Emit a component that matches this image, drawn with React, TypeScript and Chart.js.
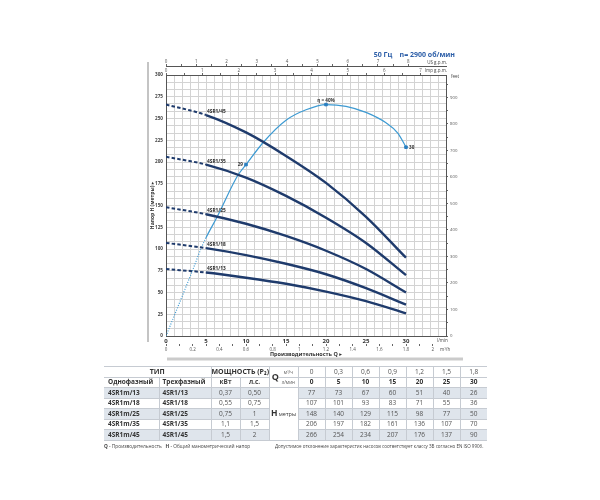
import React, { useEffect, useRef } from 'react';
import { Chart, registerables } from 'chart.js';

Chart.register(...registerables);

const FONT = "'Open Sans', 'DejaVu Sans', sans-serif";

// ---------- data ----------
const flowLmin = [0, 5, 10, 15, 20, 25, 30];
const flowM3h = ['0', '0,3', '0,6', '0,9', '1,2', '1,5', '1,8'];
const modelsSingle = ['4SR1m/13', '4SR1m/18', '4SR1m/25', '4SR1m/35', '4SR1m/45'];
const modelsThree = ['4SR1/13', '4SR1/18', '4SR1/25', '4SR1/35', '4SR1/45'];
const powerKw = ['0,37', '0,55', '0,75', '1,1', '1,5'];
const powerHp = ['0,50', '0,75', '1', '1,5', '2'];
const head13 = [77, 73, 67, 60, 51, 40, 26];
const head18 = [107, 101, 93, 83, 71, 55, 36];
const head25 = [148, 140, 129, 115, 98, 77, 50];
const head35 = [206, 197, 182, 161, 136, 107, 70];
const head45 = [266, 254, 234, 207, 176, 137, 90];
const heads = [head13, head18, head25, head35, head45];

const effQ = [0, 3.3, 4.4, 5, 6.4, 9, 10, 12.2, 15, 17.5, 20, 22.5, 25, 27.5, 29, 30];
const effH = [0, 75, 101, 113, 137, 185, 197, 223, 248, 260, 266, 264, 257, 245, 233, 217];
const effMarkQ = [10, 20, 30];
const effMarkH = [197, 266, 217];
const effMarkLabels = ['29', 'η = 40%', '30'];

const M_TO_FT = 3.28084;
const LMIN_TO_M3H = 0.06;
const LMIN_PER_USGPM = 3.78541;
const LMIN_PER_IMPGPM = 4.54609;
const X_MAX = 35;
const Y_MAX = 300;

const PUMP_COLOR = '#1f3b6c';
const EFF_COLOR = '#3d9ad2';

const near = (v: number, step: number) => Math.abs(v / step - Math.round(v / step)) < 1e-6;
const range = (n: number, step: number) => Array.from({ length: n + 1 }, (_, k) => ({ value: Math.round(k * step * 1000) / 1000 }));

const decorPlugin = {
  id: 'decor',
  beforeDraw(chart: any) {
    const c = chart.ctx;
    c.save();
    c.fillStyle = '#ffffff';
    c.fillRect(0, 0, chart.width, chart.height);
    c.strokeStyle = '#c4c4c4';
    c.lineWidth = 2;
    c.beginPath();
    c.moveTo(148, 62);
    c.lineTo(148, 342);
    c.stroke();
    c.strokeStyle = '#cbcbcb';
    c.lineWidth = 3;
    c.beginPath();
    c.moveTo(167, 359);
    c.lineTo(463, 359);
    c.stroke();
    c.restore();
  },
  afterDatasetsDraw(chart: any) {
    const c = chart.ctx;
    const xs = chart.scales.x;
    const ys = chart.scales.y;
    c.save();
    c.font = `bold 4.8px ${FONT}`;
    c.fillStyle = '#2a2a2a';
    c.textAlign = 'left';
    c.textBaseline = 'bottom';
    heads.forEach((h, i) => {
      const px = xs.getPixelForValue(flowLmin[1]);
      const py = ys.getPixelForValue(h[1]);
      c.fillText(modelsThree[i], px + 1, py - 1);
    });
    c.font = `bold 4.6px ${FONT}`;
    c.fillStyle = '#333';
    c.textBaseline = 'middle';
    effMarkQ.forEach((q, i) => {
      const px = xs.getPixelForValue(q);
      const py = ys.getPixelForValue(effMarkH[i]);
      if (i === 0) {
        c.textAlign = 'right';
        c.fillText(effMarkLabels[i], px - 3, py);
      } else if (i === 1) {
        c.textAlign = 'center';
        c.fillText(effMarkLabels[i], px, py - 4);
      } else {
        c.textAlign = 'left';
        c.fillText(effMarkLabels[i], px + 3, py);
      }
    });
    c.restore();
  },
  afterDraw(chart: any) {
    const c = chart.ctx;
    const area = chart.chartArea;
    c.save();
    c.font = `bold 7px ${FONT}`;
    c.fillStyle = '#2c5ea8';
    c.textAlign = 'right';
    c.textBaseline = 'middle';
    c.fillText('50 Гц    n= 2900 об/мин', 455, 55);
    c.fillStyle = '#444';
    c.font = `4.5px ${FONT}`;
    c.fillText('US g.p.m.', area.right + 1, 62.5);
    c.fillText('Imp g.p.m.', area.right + 1, 70.5);
    c.textAlign = 'left';
    c.fillText('feet', area.right + 5, area.top + 2);
    c.fillText('l/min', area.right - 9, area.bottom + 5);
    c.fillText('m³/h', area.right - 6, area.bottom + 13.5);
    c.font = `bold 5.5px ${FONT}`;
    c.fillStyle = '#333';
    c.textAlign = 'center';
    c.fillText('Производительность Q ▸', (area.left + area.right) / 2, 354.5);
    c.translate(153, (area.top + area.bottom) / 2);
    c.rotate(-Math.PI / 2);
    c.font = `bold 5px ${FONT}`;
    c.fillText('Напор H (метры) ▸', 0, 0);
    c.restore();
  },
};

function ChartCanvas() {
  const ref = useRef<HTMLCanvasElement | null>(null);
  useEffect(() => {
    if (!ref.current) return;
    const pumpSets = heads.map((h, i) => ({
      label: modelsThree[i],
      data: flowLmin.map((q, k) => ({ x: q, y: h[k] })),
      borderColor: PUMP_COLOR,
      borderWidth: 2.4,
      pointRadius: 0,
      cubicInterpolationMode: 'monotone',
      order: 0,
      segment: {
        borderDash: (ctx: any) => (ctx.p1DataIndex <= 1 ? [3.5, 2.2] : undefined),
        borderWidth: (ctx: any) => (ctx.p1DataIndex <= 1 ? 2 : undefined),
      },
    }));
    const effSet = {
      label: 'eff',
      data: effQ.map((q, k) => ({ x: q, y: effH[k] })),
      borderColor: EFF_COLOR,
      borderWidth: 1.2,
      pointRadius: 0,
      cubicInterpolationMode: 'monotone',
      order: 2,
      segment: {
        borderDash: (ctx: any) => (effQ[ctx.p1DataIndex] <= 5 ? [1, 1.5] : undefined),
      },
    };
    const markSet = {
      label: 'marks',
      data: effMarkQ.map((q, k) => ({ x: q, y: effMarkH[k] })),
      showLine: false,
      pointStyle: 'rect',
      pointRadius: 1.8,
      pointBackgroundColor: '#2a7fc0',
      pointBorderColor: '#2a7fc0',
      order: 1,
    };
    const small = { family: FONT, size: 4.5 };
    const chart = new Chart(ref.current, {
      type: 'line',
      data: { datasets: [...pumpSets, effSet, markSet] as any },
      options: {
        animation: false,
        responsive: false,
        maintainAspectRatio: false,
        events: [],
        layout: { autoPadding: false, padding: { left: 140, right: 134, top: 54, bottom: 146 } },
        plugins: { legend: { display: false }, tooltip: { enabled: false }, title: { display: false } },
        scales: {
          x: {
            type: 'linear', position: 'bottom', weight: 0, min: 0, max: X_MAX,
            afterBuildTicks: (s: any) => { s.ticks = range(35, 1); },
            afterFit: (s: any) => { s.height = 8; },
            grid: { color: '#d3d3d3', lineWidth: 1, drawTicks: false },
            border: { display: true, color: '#555', width: 1 },
            ticks: {
              autoSkip: false, maxRotation: 0, padding: 2, color: '#333',
              font: { family: FONT, size: 6, weight: 'bold' },
              callback: (v: any) => (near(v, 5) && v <= 30 ? String(v) : ''),
            },
          },
          xM3: {
            type: 'linear', position: 'bottom', weight: 1, min: 0, max: X_MAX * LMIN_TO_M3H,
            afterBuildTicks: (s: any) => { s.ticks = range(20, 0.1); },
            afterFit: (s: any) => { s.height = 10; },
            grid: { drawOnChartArea: false, drawTicks: true, tickLength: 2, color: '#666' },
            border: { display: false },
            ticks: {
              autoSkip: false, maxRotation: 0, padding: 1, color: '#555', font: small,
              callback: (v: any) => (near(v, 0.2) ? String(Math.round(v * 10) / 10) : ''),
            },
          },
          xImp: {
            type: 'linear', position: 'top', weight: 0, min: 0, max: X_MAX / LMIN_PER_IMPGPM,
            afterBuildTicks: (s: any) => { s.ticks = range(14, 0.5); },
            afterFit: (s: any) => { s.height = 9; },
            grid: { drawOnChartArea: false, drawTicks: true, tickLength: 2, color: '#666' },
            border: { display: true, color: '#555', width: 1 },
            ticks: {
              autoSkip: false, maxRotation: 0, padding: 0, color: '#555', font: small,
              callback: (v: any) => (near(v, 1) ? String(Math.round(v)) : ''),
            },
          },
          xUS: {
            type: 'linear', position: 'top', weight: 1, min: 0, max: X_MAX / LMIN_PER_USGPM,
            afterBuildTicks: (s: any) => { s.ticks = range(16, 0.5); },
            afterFit: (s: any) => { s.height = 12; },
            grid: { drawOnChartArea: false, drawTicks: true, tickLength: 2, color: '#666' },
            border: { display: true, color: '#555', width: 1 },
            ticks: {
              autoSkip: false, maxRotation: 0, padding: 0, color: '#555', font: small,
              callback: (v: any) => (near(v, 1) ? String(Math.round(v)) : ''),
            },
          },
          y: {
            type: 'linear', position: 'left', min: 0, max: Y_MAX,
            afterBuildTicks: (s: any) => { s.ticks = Array.from({ length: 37 }, (_, k) => ({ value: (k * 25) / 3 })); },
            afterFit: (s: any) => { s.width = 26; },
            grid: { color: '#d3d3d3', lineWidth: 1, drawTicks: false },
            border: { display: true, color: '#555', width: 1 },
            ticks: {
              autoSkip: false, padding: 3, color: '#444',
              font: { family: FONT, size: 4.6, weight: 'bold' },
              callback: (v: any) => (near(v, 25) ? String(Math.round(v)) : ''),
            },
          },
          yFt: {
            type: 'linear', position: 'right', min: 0, max: Y_MAX * M_TO_FT,
            afterBuildTicks: (s: any) => { s.ticks = range(19, 50); },
            afterFit: (s: any) => { s.width = 20; },
            grid: { drawOnChartArea: false, drawTicks: true, tickLength: 2, color: '#666' },
            border: { display: true, color: '#555', width: 1 },
            ticks: {
              autoSkip: false, padding: 2, color: '#555', font: { family: FONT, size: 4.3 },
              callback: (v: any) => (near(v, 100) ? String(Math.round(v)) : ''),
            },
          },
        },
      } as any,
      plugins: [decorPlugin],
    });
    return () => chart.destroy();
  }, []);
  return <canvas ref={ref} width={600} height={500} style={{ display: 'block', width: 600, height: 500 }} />;
}

function DataTable() {
  const line = '1px solid #c6cbd2';
  const base: React.CSSProperties = {
    border: line,
    padding: 0,
    lineHeight: '8px',
    textAlign: 'center',
    fontSize: 6.5,
    color: '#555',
    whiteSpace: 'nowrap',
    overflow: 'hidden',
    verticalAlign: 'middle',
  };
  const stripe = '#dfe5ec';
  const colW = [55, 52, 29, 29, 10, 19, 27, 27, 27, 27, 27, 27, 27];
  const bold: React.CSSProperties = { fontWeight: 700, color: '#333' };
  const rowH = 10.5;
  return (
    <div style={{ position: 'absolute', left: 104, top: 366, width: 400, fontFamily: FONT }}>
      <table style={{ borderCollapse: 'collapse', tableLayout: 'fixed', width: 383 }}>
        <colgroup>
          {colW.map((w, i) => (
            <col key={i} style={{ width: w }} />
          ))}
        </colgroup>
        <tbody>
          <tr style={{ height: rowH }}>
            <td colSpan={2} style={{ ...base, ...bold, fontSize: 7, borderLeft: 'none' }}>ТИП</td>
            <td colSpan={2} style={{ ...base, ...bold, fontSize: 7 }}>МОЩНОСТЬ (P₂)</td>
            <td rowSpan={2} style={{ ...base, ...bold, fontSize: 9, borderRight: 'none', textAlign: 'right' }}>Q</td>
            <td style={{ ...base, borderLeft: 'none', fontSize: 4.5 }}>м³/ч</td>
            {flowM3h.map((v, i) => (
              <td key={i} style={{ ...base, borderRight: i === 6 ? 'none' : line }}>{v}</td>
            ))}
          </tr>
          <tr style={{ height: rowH }}>
            <td style={{ ...base, ...bold, textAlign: 'left', paddingLeft: 4, borderLeft: 'none' }}>Однофазный</td>
            <td style={{ ...base, ...bold, textAlign: 'left', paddingLeft: 3 }}>Трехфазный</td>
            <td style={{ ...base, ...bold, color: '#444' }}>кВт</td>
            <td style={{ ...base, ...bold, color: '#444' }}>л.с.</td>
            <td style={{ ...base, borderLeft: 'none', fontSize: 4.5 }}>л/мин</td>
            {flowLmin.map((v, i) => (
              <td key={i} style={{ ...base, ...bold, borderRight: i === 6 ? 'none' : line }}>{v}</td>
            ))}
          </tr>
          {modelsThree.map((m, r) => {
            const bg = r % 2 === 0 ? stripe : '#ffffff';
            return (
              <tr key={m} style={{ height: rowH }}>
                <td style={{ ...base, ...bold, background: bg, textAlign: 'left', paddingLeft: 4, borderLeft: 'none' }}>{modelsSingle[r]}</td>
                <td style={{ ...base, ...bold, background: bg, textAlign: 'left', paddingLeft: 3 }}>{m}</td>
                <td style={{ ...base, background: bg }}>{powerKw[r]}</td>
                <td style={{ ...base, background: bg }}>{powerHp[r]}</td>
                {r === 0 && (
                  <td colSpan={2} rowSpan={5} style={{ ...base, background: '#ffffff', color: '#333', lineHeight: '10px' }}>
                    <span style={{ fontWeight: 700, fontSize: 8.5 }}>H</span>
                    <span style={{ fontSize: 5.5 }}> метры</span>
                  </td>
                )}
                {heads[r].map((v, i) => (
                  <td key={i} style={{ ...base, background: bg, borderRight: i === 6 ? 'none' : line }}>{v}</td>
                ))}
              </tr>
            );
          })}
        </tbody>
      </table>
      <div style={{ position: 'absolute', left: 0, top: 77, fontSize: 4.8, color: '#444', whiteSpace: 'nowrap' }}>
        <b>Q</b> - Производительность&nbsp;&nbsp;&nbsp;<b>H</b> - Общий манометрический напор
      </div>
      <div style={{ position: 'absolute', left: 171, top: 77, fontSize: 4.5, color: '#444', whiteSpace: 'nowrap' }}>
        Допустимое отклонение характеристик насосов соответствует классу 3В согласно EN ISO 9906.
      </div>
    </div>
  );
}

export default function App() {
  return (
    <div style={{ position: 'absolute', left: 0, top: 0, width: 600, height: 500, background: '#fff', overflow: 'hidden' }}>
      <ChartCanvas />
      <DataTable />
    </div>
  );
}
